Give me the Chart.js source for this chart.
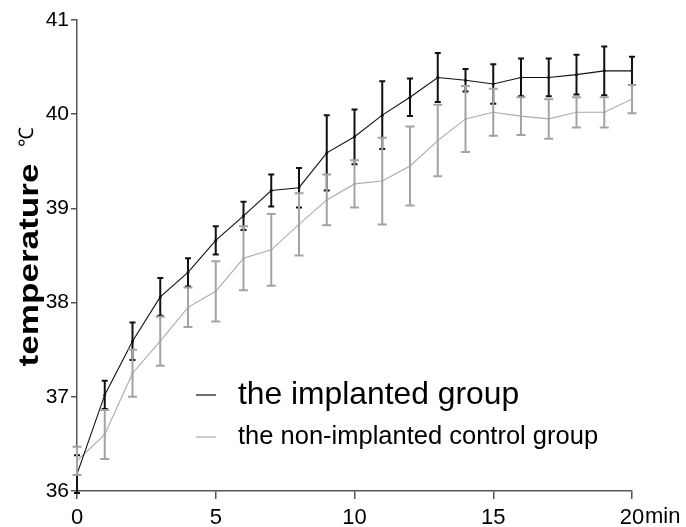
<!DOCTYPE html>
<html>
<head>
<meta charset="utf-8">
<script src="https://cdn.jsdelivr.net/npm/chart.js@4.4.1/dist/chart.umd.min.js"></script>
<style>
  body { margin: 0; background: #fff; }
  #wrap { width: 686px; height: 527px; }
</style>
</head>
<body>
<div id="wrap"><canvas id="tempChart" width="686" height="527"></canvas></div>
<script>
// minutes on the x axis
const minutes = [0, 1, 2, 3, 4, 5, 6, 7, 8, 9, 10, 11, 12, 13, 14, 15, 16, 17, 18, 19, 20];

// implanted group: mean and error
const implantedMean = [36.18, 37.02, 37.59, 38.06, 38.32, 38.66, 38.92, 39.19, 39.22, 39.59, 39.76,
                       39.99, 40.18, 40.39, 40.36, 40.32, 40.39, 40.39, 40.42, 40.46, 40.46];
const implantedErr = [0.2, 0.15, 0.2, 0.2, 0.15, 0.15, 0.15, 0.17, 0.21, 0.4, 0.29,
                      0.36, 0.2, 0.26, 0.12, 0.21, 0.2, 0.2, 0.21, 0.26, 0.15];

// non-implanted control group: mean and error
const controlMean = [36.32, 36.6, 37.25, 37.59, 37.95, 38.12, 38.47, 38.56, 38.83, 39.09, 39.26,
                     39.29, 39.45, 39.72, 39.95, 40.02, 39.98, 39.95, 40.02, 40.02, 40.16];
const controlErr = [0.15, 0.26, 0.25, 0.26, 0.21, 0.32, 0.34, 0.38, 0.33, 0.27, 0.25,
                    0.46, 0.42, 0.38, 0.35, 0.25, 0.2, 0.21, 0.16, 0.16, 0.15];

const xTicks = [0, 5, 10, 15, 20];
const yTicks = [36, 37, 38, 39, 40, 41];

const FONT = 'Liberation Sans, Arial, sans-serif';
const axisColor = '#555';

// error bars (drawn with the chart's own scales)
const errorBars = {
    id: 'errorBars',
    afterDatasetsDraw(chart) {
        const ctx = chart.ctx;
        const xs = chart.scales.x, ys = chart.scales.y;
        chart.data.datasets.forEach((ds) => {
            ctx.save();
            ctx.strokeStyle = ds.errColor;
            ctx.lineWidth = 2;
            ds.data.forEach((p, i) => {
                const e = ds.errors[i];
                const px = xs.getPixelForValue(p.x);
                const top = ys.getPixelForValue(p.y + e);
                const bot = ys.getPixelForValue(p.y - e);
                const w = ds.capHalf;
                ctx.beginPath();
                ctx.moveTo(px, top); ctx.lineTo(px, bot);
                ctx.moveTo(px - w, top); ctx.lineTo(px + w, top);
                ctx.moveTo(px - w, bot); ctx.lineTo(px + w, bot);
                ctx.stroke();
            });
            ctx.restore();
        });
    }
};

// y title, degree sign, "min" unit and the in-plot legend
const extras = {
    id: 'extras',
    afterDraw(chart) {
        const ctx = chart.ctx;
        const xs = chart.scales.x;
        ctx.save();
        ctx.fillStyle = '#000';

        // y axis title (stretched like the original)
        ctx.save();
        ctx.translate(38, 265);
        ctx.rotate(-Math.PI / 2);
        ctx.scale(1.3, 1);
        ctx.font = 'bold 27px ' + FONT;
        ctx.textAlign = 'center';
        ctx.textBaseline = 'alphabetic';
        ctx.fillText('temperature', 0, 0);
        ctx.restore();

        ctx.save();
        ctx.translate(33, 137);
        ctx.rotate(-Math.PI / 2);
        ctx.font = '20px ' + FONT;
        ctx.textAlign = 'center';
        ctx.textBaseline = 'alphabetic';
        ctx.fillText('℃', 0, 0);
        ctx.restore();

        // unit after the last x tick
        ctx.font = '22px ' + FONT;
        ctx.textAlign = 'left';
        ctx.textBaseline = 'top';
        ctx.fillText('min', xs.getPixelForValue(20) + 13, xs.top + 15);

        // legend
        const rows = [
            { ds: chart.data.datasets[0], y: 395, size: 31.8 },
            { ds: chart.data.datasets[1], y: 437, size: 25.5 }
        ];
        rows.forEach((r) => {
            ctx.strokeStyle = r.ds.borderColor;
            ctx.lineWidth = 1.2;
            ctx.beginPath();
            ctx.moveTo(196, r.y); ctx.lineTo(216, r.y);
            ctx.stroke();
            ctx.font = r.size + 'px ' + FONT;
            ctx.textBaseline = 'middle';
            ctx.fillStyle = '#000';
            ctx.fillText(r.ds.label, 238, r.y);
        });
        ctx.restore();
    }
};

new Chart(document.getElementById('tempChart'), {
    type: 'line',
    data: {
        datasets: [{
            label: 'the implanted group',
            data: minutes.map((m, i) => ({ x: m, y: implantedMean[i] })),
            errors: implantedErr,
            errColor: '#111',
            capHalf: 3,
            borderColor: '#111',
            backgroundColor: '#111',
            borderWidth: 1.1,
            pointRadius: 1.5,
            pointBorderWidth: 0,
            tension: 0
        }, {
            label: 'the non-implanted control group',
            data: minutes.map((m, i) => ({ x: m, y: controlMean[i] })),
            errors: controlErr,
            errColor: '#a3a3a3',
            capHalf: 4.5,
            borderColor: '#ababab',
            backgroundColor: '#ababab',
            borderWidth: 1.1,
            pointRadius: 1.2,
            pointBorderWidth: 0,
            tension: 0
        }]
    },
    options: {
        responsive: false,
        animation: false,
        devicePixelRatio: 1,
        layout: { padding: { top: 20, right: 54, left: 0, bottom: 0 } },
        plugins: {
            legend: { display: false },
            tooltip: { enabled: false }
        },
        scales: {
            x: {
                type: 'linear',
                min: 0,
                max: 20,
                afterFit(scale) { scale.height = 36; },
                afterBuildTicks(scale) { scale.ticks = xTicks.map((v) => ({ value: v })); },
                border: { display: true, color: axisColor, width: 1.5 },
                grid: { display: true, drawOnChartArea: false, drawTicks: true, tickLength: 8, color: axisColor, lineWidth: 1.5 },
                ticks: { color: '#000', font: { family: FONT, size: 22 }, padding: 6, maxRotation: 0 }
            },
            y: {
                min: 36,
                max: 41,
                afterFit(scale) { scale.width = 77; },
                afterBuildTicks(scale) { scale.ticks = yTicks.map((v) => ({ value: v })); },
                border: { display: true, color: axisColor, width: 1.5 },
                grid: { display: true, drawOnChartArea: false, drawTicks: true, tickLength: 6, color: axisColor, lineWidth: 1.5 },
                ticks: { color: '#000', font: { family: FONT, size: 21 }, padding: 2 }
            }
        }
    },
    plugins: [errorBars, extras]
});
</script>
</body>
</html>
